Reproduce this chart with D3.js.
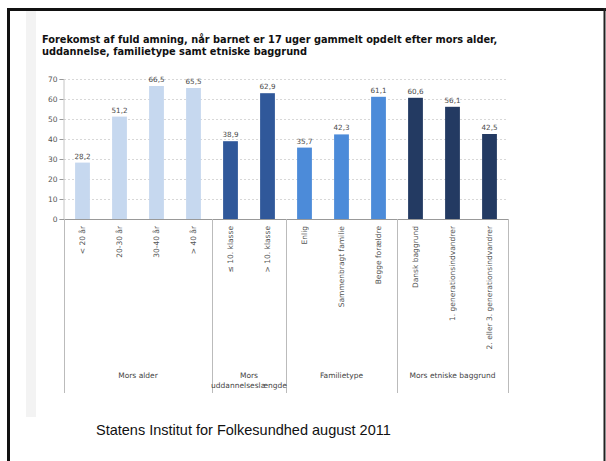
<!DOCTYPE html>
<html>
<head>
<meta charset="utf-8">
<script src="https://cdn.jsdelivr.net/npm/d3@7"></script>
<style>
  body { margin: 0; background: #fff; }
  svg { display: block; }
</style>
</head>
<body>
<div id="chart"></div>
<script>

// Chart data
var categories = ["< 20 år", "20-30 år", "30-40 år", "> 40 år",
    "≤ 10. klasse", "> 10. klasse",
    "Enlig", "Sammenbragt familie", "Begge forældre",
    "Dansk baggrund", "1. generationsindvandrer", "2. eller 3. generationsindvandrer"];
var values = [28.2, 51.2, 66.5, 65.5, 38.9, 62.9, 35.7, 42.3, 61.1, 60.6, 56.1, 42.5];
var groupOf = [0, 0, 0, 0, 1, 1, 2, 2, 2, 3, 3, 3];
var groupNames = [["Mors alder"], ["Mors", "uddannelseslængde"], ["Familietype"], ["Mors etniske baggrund"]];
var groupColors = ["#c6d8ef", "#30589a", "#4c8bd9", "#233a62"];
var yTicks = [0, 10, 20, 30, 40, 50, 60, 70];
var titleLines = ["Forekomst af fuld amning, når barnet er 17 uger gammelt opdelt efter mors alder,",
    "uddannelse, familietype samt etniske baggrund"];
var footer = "Statens Institut for Folkesundhed august 2011";

var W = 606, H = 461;
var plotLeft = 64, plotRight = 508, plotTop = 79, plotBottom = 219, groupBottom = 393;

var svg = d3.select("#chart").append("svg")
    .attr("width", W)
    .attr("height", H);

// slide frame
svg.append("rect").attr("x", 26).attr("y", 10).attr("width", 10).attr("height", 407)
    .style("fill", "#f3f3f3");
svg.append("line").attr("x1", 8.5).attr("x2", 8.5).attr("y1", 8).attr("y2", H)
    .style("stroke", "#111").style("stroke-width", 3);
svg.append("line").attr("x1", 7).attr("x2", W).attr("y1", 9.5).attr("y2", 9.5)
    .style("stroke", "#111").style("stroke-width", 3);
svg.append("line").attr("x1", W - 1.5).attr("x2", W - 1.5).attr("y1", 8).attr("y2", H)
    .style("stroke", "#222").style("stroke-width", 2);

// title
svg.append("g").selectAll("text").data(titleLines).enter().append("text")
    .attr("x", 42)
    .attr("y", function (d, i) { return 42.5 + i * 12.8; })
    .style("font-family", "DejaVu Sans")
    .style("font-weight", "bold")
    .style("font-size", "9.8px")
    .style("fill", "#111")
    .text(function (d) { return d; });

var x = d3.scaleBand()
    .domain(categories)
    .range([plotLeft, plotRight])
    .paddingInner(0.6)
    .paddingOuter(0.3);

var y = d3.scaleLinear()
    .domain([0, 70])
    .range([plotBottom, plotTop]);

// gridlines
svg.append("g").selectAll("line").data(yTicks.slice(1)).enter().append("line")
    .attr("x1", plotLeft).attr("x2", plotRight)
    .attr("y1", function (d) { return Math.round(y(d)) + 0.5; })
    .attr("y2", function (d) { return Math.round(y(d)) + 0.5; })
    .style("stroke", "#d8d8d8")
    .style("stroke-dasharray", "2,2");

// y axis
var yAxis = svg.append("g")
    .attr("transform", "translate(" + (plotLeft - 0.5) + ",0)")
    .call(d3.axisLeft(y).tickValues(yTicks).tickSize(4).tickPadding(2));
yAxis.select(".domain").style("stroke", "#c4c4c4");
yAxis.selectAll(".tick line").style("stroke", "#999");
yAxis.selectAll("text")
    .style("font-family", "DejaVu Sans")
    .style("font-size", "7.5px")
    .style("fill", "#555");

// bars
svg.append("g").selectAll("rect").data(values).enter().append("rect")
    .attr("x", function (d, i) { return x(categories[i]); })
    .attr("y", function (d) { return y(d); })
    .attr("width", x.bandwidth())
    .attr("height", function (d) { return y(0) - y(d); })
    .style("fill", function (d, i) { return groupColors[groupOf[i]]; });

// value labels
svg.append("g").selectAll("text").data(values).enter().append("text")
    .attr("x", function (d, i) { return x(categories[i]) + x.bandwidth() / 2; })
    .attr("y", function (d) { return y(d) - 4; })
    .attr("text-anchor", "middle")
    .style("font-family", "DejaVu Sans")
    .style("font-size", "7.2px")
    .style("fill", "#4a4a4a")
    .text(function (d) { return d3.format(".1f")(d).replace(".", ","); });

// x axis line
svg.append("line").attr("x1", plotLeft - 1).attr("x2", plotRight)
    .attr("y1", plotBottom + 0.5).attr("y2", plotBottom + 0.5)
    .style("stroke", "#999");

// category labels, rotated
svg.append("g").selectAll("text").data(categories).enter().append("text")
    .attr("transform", function (d) {
        return "translate(" + (x(d) + x.bandwidth() / 2 + 2.5) + "," + (plotBottom + 7) + ") rotate(-90)";
    })
    .attr("text-anchor", "end")
    .style("font-family", "DejaVu Sans")
    .style("font-size", "7.5px")
    .style("fill", "#555")
    .text(function (d) { return d; });

// group separators
var bounds = [0, 4, 6, 9, 12];
var sepX = bounds.map(function (b) {
    if (b === 0) return plotLeft;
    if (b === categories.length) return plotRight;
    return (x(categories[b - 1]) + x.bandwidth() + x(categories[b])) / 2;
});
svg.append("g").selectAll("line").data(sepX).enter().append("line")
    .attr("x1", function (d) { return Math.round(d) + 0.5; })
    .attr("x2", function (d) { return Math.round(d) + 0.5; })
    .attr("y1", plotBottom).attr("y2", groupBottom)
    .style("stroke", "#bbb");

// group names
var gName = svg.append("g").selectAll("text").data(groupNames).enter().append("text")
    .attr("text-anchor", "middle")
    .style("font-family", "DejaVu Sans")
    .style("font-size", "7.5px")
    .style("fill", "#444");
gName.selectAll("tspan").data(function (d, i) {
        return d.map(function (t) { return { t: t, cx: (sepX[i] + sepX[i + 1]) / 2 }; });
    }).enter().append("tspan")
    .attr("x", function (d) { return d.cx; })
    .attr("y", function (d, j) { return 378 + j * 10; })
    .text(function (d) { return d.t; });

// footer
svg.append("text")
    .attr("x", 96)
    .attr("y", 435)
    .style("font-family", "Liberation Sans")
    .style("font-size", "14.5px")
    .style("fill", "#111")
    .text(footer);

</script>
</body>
</html>
